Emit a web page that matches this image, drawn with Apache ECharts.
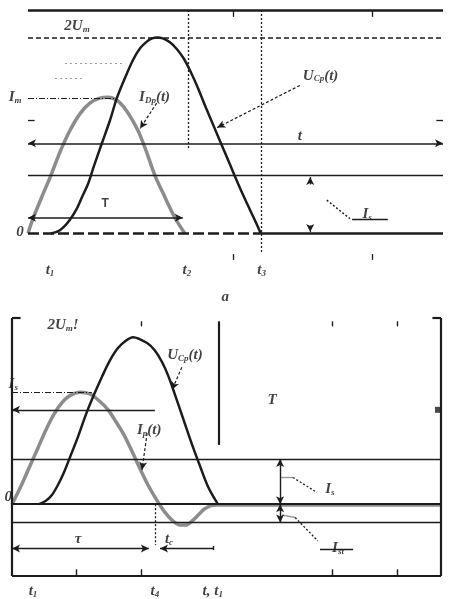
<!DOCTYPE html>
<html><head><meta charset="utf-8">
<script src="https://cdn.jsdelivr.net/npm/echarts@6/dist/echarts.min.js"></script>
<style>html,body{margin:0;padding:0;background:#fff}#c{width:449px;height:599px}</style>
</head><body><div id="c"></div>
<script>
// ---------- Panel a : data (x: time units 0..100, y: in units of U_m) ----------
const tA_U = [5.5,7.2,8.7,10.1,11.6,13.0,14.5,15.9,17.8,19.8,21.4,23.4,25.3,27.0,28.7,29.9,31.1,32.5,34.2,35.9,37.6,39.3,41.0,42.9,44.8,46.7,48.7,50.6,52.5,54.5,56.1];
const uA   = [0,0.02,0.07,0.14,0.24,0.37,0.51,0.69,0.92,1.16,1.38,1.59,1.77,1.89,1.96,1.99,2.0,1.99,1.95,1.88,1.78,1.64,1.48,1.28,1.09,0.90,0.70,0.51,0.33,0.15,0];
const tA_I = [0,1.2,3.4,5.5,7.7,10.1,12.5,14.9,17.3,19.3,21.7,24.1,26.5,28.4,30.6,33.0,35.4,37.8];
const iA   = [0,0.15,0.38,0.59,0.83,1.05,1.22,1.33,1.38,1.39,1.35,1.23,1.05,0.85,0.59,0.37,0.16,0];

// ---------- Panel b ----------
const tB_U = [6.3,7.9,9.3,10.7,12.1,13.5,15.4,17.2,19.1,21.0,22.8,24.7,26.6,28.2,31.5,33.3,35.0,36.4,37.8,39.6,42.0,43.8,45.7,48.0];
const uB   = [0,0.04,0.11,0.23,0.38,0.56,0.81,1.07,1.31,1.53,1.72,1.87,1.96,2.0,1.93,1.84,1.70,1.54,1.34,1.07,0.71,0.46,0.21,0];
const tB_I = [0,2.3,4.2,6.1,7.9,9.8,11.7,13.5,15.9,18.2,20.5,22.4,24.2,26.1,28.0,29.8,31.7,33.6,35.4,37.3,39.2,40.6,42.0,43.4,44.8,46.2,47.8,100];
const iB   = [0,0.24,0.46,0.68,0.89,1.08,1.22,1.30,1.34,1.32,1.23,1.13,0.99,0.83,0.63,0.43,0.23,0.06,-0.08,-0.19,-0.25,-0.25,-0.20,-0.13,-0.06,-0.02,-0.01,-0.01];

// ---------- text labels [x, y, rich text] ----------
const labelsA = [
  [11.8, 2.12, '{i|2U}{s|m}'],
  [-3.1, 1.39, '{i|I}{s|m}'],
  [30.5, 1.39, '{i|I}{s|Dp}{i|(t)}'],
  [70.5, 1.61, '{i|U}{s|Cp}{i|(t)}'],
  [65.5, 0.99, '{i|t}'],
  [-1.9, 0.01, '{i|0}'],
  [18.6, 0.30, '{n|T}'],
  [81.7, 0.20, '{i|I}{s|s}'],
  [5.3, -0.37, '{i|t}{s|1}'],
  [38.3, -0.37, '{i|t}{s|2}'],
  [56.3, -0.37, '{i|t}{s|3}'],
  [47.5, -0.65, '{i|a}']
];
const labelsB = [
  [11.9, 2.14, '{i|2U}{s|m}{i|!}'],
  [40.3, 1.78, '{i|U}{s|Cp}{i|(t)}'],
  [0.3, 1.44, '{i|I}{s|s}'],
  [32.0, 0.89, '{i|I}{s|p}{i|(t)}'],
  [60.6, 1.25, '{i|T}'],
  [-0.9, 0.08, '{i|0}'],
  [74.1, 0.18, '{i|I}{s|s}'],
  [76.0, -0.53, '{i|I}{s|st}'],
  [15.4, -0.42, '{i|τ}'],
  [36.6, -0.42, '{i|t}{s|c}'],
  [4.9, -1.04, '{i|t}{s|1}'],
  [33.3, -1.04, '{i|t}{s|4}'],
  [46.8, -1.04, '{i|t, t}{s|1}']
];

// ---------- annotation segments [x1,y1,x2,y2] ----------
const A_thick = [[0,2.28,100,2.28],[56.1,0,100,0]];
const A_thin  = [[0,0.59,100,0.59],[49.4,2.28,49.4,2.21],[82.9,2.28,82.9,2.21],[49.4,-0.21,49.4,-0.27],[82.9,-0.21,82.9,-0.27],[0,1.15,1.6,1.15],[98.4,1.15,100,1.15],[78.1,0.14,86.7,0.14]];
const A_dash  = [[0,2.0,100,2.0]];
const A_base  = [[0,0,56.1,0]];
const A_dashdot = [[0,1.38,21.0,1.38],[5.5,2.28,5.5,-0.33]];
const A_dot   = [[38.6,2.28,38.6,0.85],[56.1,2.28,56.1,-0.2],[72.0,0.34,77.6,0.15]];
const A_faint = [[8.9,1.74,23.4,1.74],[6.5,1.58,13.0,1.58]];
const A_arrow2 = [[0,0.92,100,0.92],[0,0.16,37.3,0.16]];
const A_arrowEnd = [[65.5,1.51,45.6,1.08],[31.0,1.33,27.0,1.07],[68,0.50,68,0.575],[68,0.08,68,0.015]];

const B_thick = [[0,2.23,0,-0.86],[100,2.23,100,-0.86],[0,-0.86,100,-0.86],[48.3,2.19,48.3,0.71],[0,0,100,0],[0,2.23,2,2.23],[98,2.23,100,2.23]];
const B_thin  = [[0,0.54,100,0.54],[0,-0.22,100,-0.22],[14.9,-0.86,14.9,-0.78],[30.1,-0.86,30.1,-0.78],[74.6,-0.86,74.6,-0.78],[89.7,-0.86,89.7,-0.78],[30.1,2.19,30.1,2.13],[74.6,2.19,74.6,2.13],[89.7,2.19,89.7,2.13],[71.8,-0.54,79.5,-0.54],[46.9,-0.5,46.9,-0.55]];
const B_grayl = [[62.5,0.32,65.5,0.32],[62.9,-0.13,66.0,-0.16]];
const B_dashdot = [[0,1.34,18.6,1.34]];
const B_dot   = [[33.3,0,33.3,-0.49],[65.5,0.32,71.1,0.14],[66.0,-0.16,71.3,-0.44]];
const B_arrow2 = [[0,-0.53,31.9,-0.53],[62.5,0.54,62.5,0],[62.5,0,62.5,-0.22]];
const B_arrowStart = [[0,1.13,33.3,1.13],[34.5,-0.53,46.9,-0.53]];
const B_arrowEnd = [[39.6,1.64,37.3,1.37],[31.5,0.85,30.3,0.41]];
const B_square = [[99.3,1.13]];

const BLACK = '#1c1c1c', GRAY = '#8c8c8c';
const toSeg = s => [{coord:[s[0],s[1]]},{coord:[s[2],s[3]]}];
function ann(segs, gi, style, sym){
  return {type:'line', xAxisIndex:gi, yAxisIndex:gi, data:[], silent:true, animation:false,
    markLine:{silent:true, animation:false, symbol:sym||['none','none'], symbolSize:[6,8],
      label:{show:false}, emphasis:{disabled:true}, lineStyle:Object.assign({color:BLACK, width:1.5, type:'solid'}, style),
      data:segs.map(toSeg)}};
}
const rich = {
  i:{fontFamily:'Liberation Serif', fontStyle:'italic', fontWeight:'bold', fontSize:15, color:'#111'},
  n:{fontFamily:'Liberation Sans', fontWeight:'bold', fontSize:12, color:'#111'},
  s:{fontFamily:'Liberation Serif', fontStyle:'italic', fontWeight:'bold', fontSize:9, color:'#111', padding:[7,0,0,0]}
};
function labels(arr, gi){
  return {type:'scatter', xAxisIndex:gi, yAxisIndex:gi, symbolSize:0, clip:false, silent:true, animation:false,
    label:{show:true, position:'inside', rich:rich},
    data:arr.map(l=>({value:[l[0],l[1]], label:{formatter:l[2]}}))};
}
const zip = (xs, ys) => xs.map((x,k)=>[x,ys[k]]);
function curve(name, gi, xs, ys, color, width){
  return {type:'line', name:name, xAxisIndex:gi, yAxisIndex:gi, data:zip(xs,ys), smooth:0.3,
    showSymbol:false, lineStyle:{color:color, width:width}, animation:false, silent:true};
}
const hidden = {show:false};
function axX(gi){return {type:'value', gridIndex:gi, min:0, max:100, axisLine:hidden, axisTick:hidden, axisLabel:hidden, splitLine:hidden};}
function axY(gi,mn,mx){return {type:'value', gridIndex:gi, min:mn, max:mx, axisLine:hidden, axisTick:hidden, axisLabel:hidden, splitLine:hidden};}

const chart = echarts.init(document.getElementById('c'), null, {renderer:'canvas'});
chart.setOption({
  backgroundColor:'#fff',
  animation:false,
  grid:[{left:28, width:415, top:10, height:252.84},{left:12, width:429, top:318, height:258.0}],
  xAxis:[axX(0), axX(1)],
  yAxis:[axY(0,-0.3,2.28), axY(1,-0.86,2.23)],
  series:[
    ann(A_thick,0,{width:2.5}),
    ann(A_thin,0,{width:1.3}),
    ann(A_dash,0,{width:1.5, type:[5,3]}),
    ann(A_base,0,{width:2.5, type:[11,4]}),
    ann(A_dashdot,0,{width:1.2, type:[6,2,1,2]}),
    ann(A_dot,0,{width:1.3, type:[2,2]}),
    ann(A_faint,0,{width:1.2, type:[2,3], color:'#999'}),
    ann(A_arrow2,0,{width:1.5},['arrow','arrow']),
    ann(A_arrowEnd,0,{width:1.2, type:[3,2]},['none','arrow']),
    curve('I_Dp',0,tA_I,iA,GRAY,3.5),
    curve('U_Cp',0,tA_U,uA,BLACK,2.5),
    labels(labelsA,0),

    ann(B_thick,1,{width:2.2}),
    ann(B_thin,1,{width:1.4}),
    ann(B_grayl,1,{width:1.4, color:'#999'}),
    ann(B_dashdot,1,{width:1.2, type:[6,2,1,2]}),
    ann(B_dot,1,{width:1.3, type:[2,2]}),
    ann(B_arrow2,1,{width:1.4},['arrow','arrow']),
    ann(B_arrowStart,1,{width:1.4},['arrow','none']),
    ann(B_arrowEnd,1,{width:1.2, type:[3,2]},['none','arrow']),
    curve('I_p',1,tB_I,iB,GRAY,3.5),
    curve('U_Cp b',1,tB_U,uB,BLACK,2.5),
    {type:'scatter', xAxisIndex:1, yAxisIndex:1, data:B_square, symbol:'rect', symbolSize:6, itemStyle:{color:BLACK}, silent:true, animation:false},
    labels(labelsB,1)
  ]
});
</script></body></html>
